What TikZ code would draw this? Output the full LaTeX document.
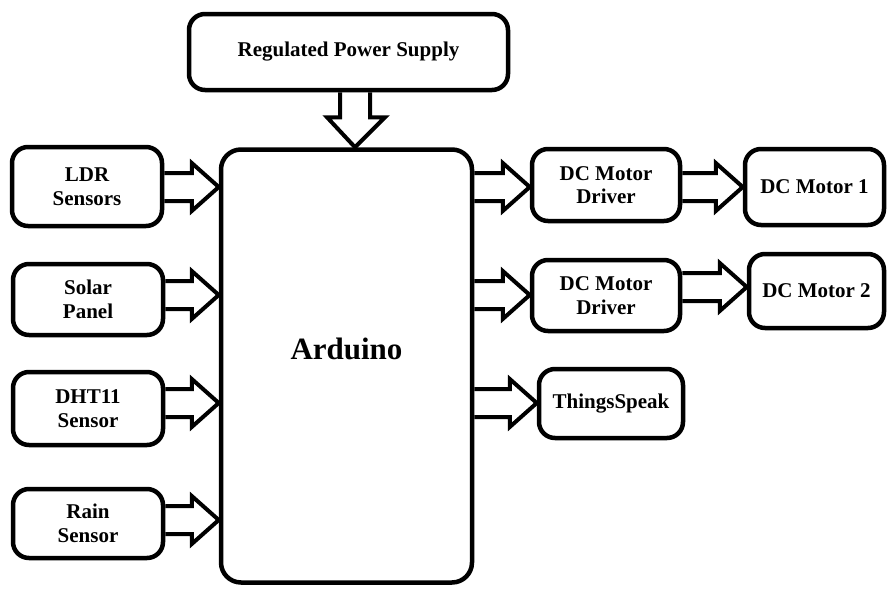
\documentclass[tikz,border=0pt]{standalone}
\usepackage{fontspec}
\setmainfont{Liberation Serif}
\usetikzlibrary{calc}
\tikzset{
  blk/.style={draw=black, line width=4.5pt, rounded corners=16pt, align=center,
    font=\fontsize{21}{23.5}\selectfont\bfseries, inner sep=0pt},
  fat/.style={draw=black, line width=4pt, line join=miter}
}
\newcommand\harr[3]{\draw[fat] let \p1=(#1.east), \p2=(#2.west), \p3=(0,#3) in
  (\x1,\y3+14pt) -- (\x2-27pt,\y3+14pt) -- (\x2-27pt,\y3+24pt) -- (\x2,\y3)
  -- (\x2-27pt,\y3-24pt) -- (\x2-27pt,\y3-14pt) -- (\x1,\y3-14pt);}
\begin{document}
\begin{tikzpicture}[x=1pt,y=-1pt]
\useasboundingbox[fill=white] (0,0) rectangle (889,589);
% nodes
\node[blk, minimum width=319pt, minimum height=76pt] (psu) at (348.5,52) {Regulated Power Supply};
\node[blk, rounded corners=20pt, minimum width=251pt, minimum height=433pt] (ard) at (346.5,366) {};
\node[font=\fontsize{31}{34}\selectfont\bfseries, inner sep=0pt] (ardtxt) at ($(ard.center)+(0,-17)$) {Arduino};
\node[blk, minimum width=150pt, minimum height=79pt] (ldr) at (87,186.5) {LDR\\Sensors};
\node[blk, minimum width=150pt, minimum height=71pt] (sol) at (88,299.5) {Solar\\Panel};
\node[blk, minimum width=150pt, minimum height=73pt] (dht) at (88,408.5) {DHT11\\Sensor};
\node[blk, minimum width=150pt, minimum height=69pt] (rain) at (88,523.5) {Rain\\Sensor};
\node[blk, minimum width=148pt, minimum height=72pt] (drv1) at (606,185) {DC Motor\\Driver};
\node[blk, minimum width=148pt, minimum height=71pt] (drv2) at (606,295.5) {DC Motor\\Driver};
\node[blk, minimum width=144pt, minimum height=69pt] (ts) at (611,403.5) {ThingsSpeak};
\node[blk, minimum width=139pt, minimum height=76pt] (m1) at (814.5,187) {DC Motor 1};
\node[blk, minimum width=135pt, minimum height=74pt] (m2) at (816.5,291) {DC Motor 2};
% power arrow
\draw[fat] let \p1=(psu.south), \p2=(ard.north), \p3=(355,0) in
  (\x3-15pt,\y1) -- (\x3-15pt,\y2+30pt) -- (\x3-28pt,\y2+30pt) -- (\x3,\y2)
  -- (\x3+30pt,\y2+30pt) -- (\x3+15pt,\y2+30pt) -- (\x3+15pt,\y1);
% input arrows
\harr{ldr}{ard}{187}
\harr{sol}{ard}{295}
\harr{dht}{ard}{403}
\harr{rain}{ard}{520}
% output arrows
\harr{ard}{drv1}{187}
\harr{ard}{drv2}{295}
\harr{ard}{ts}{403}
\harr{drv1}{m1}{187}
\harr{drv2}{m2}{287}
\end{tikzpicture}
\end{document}
